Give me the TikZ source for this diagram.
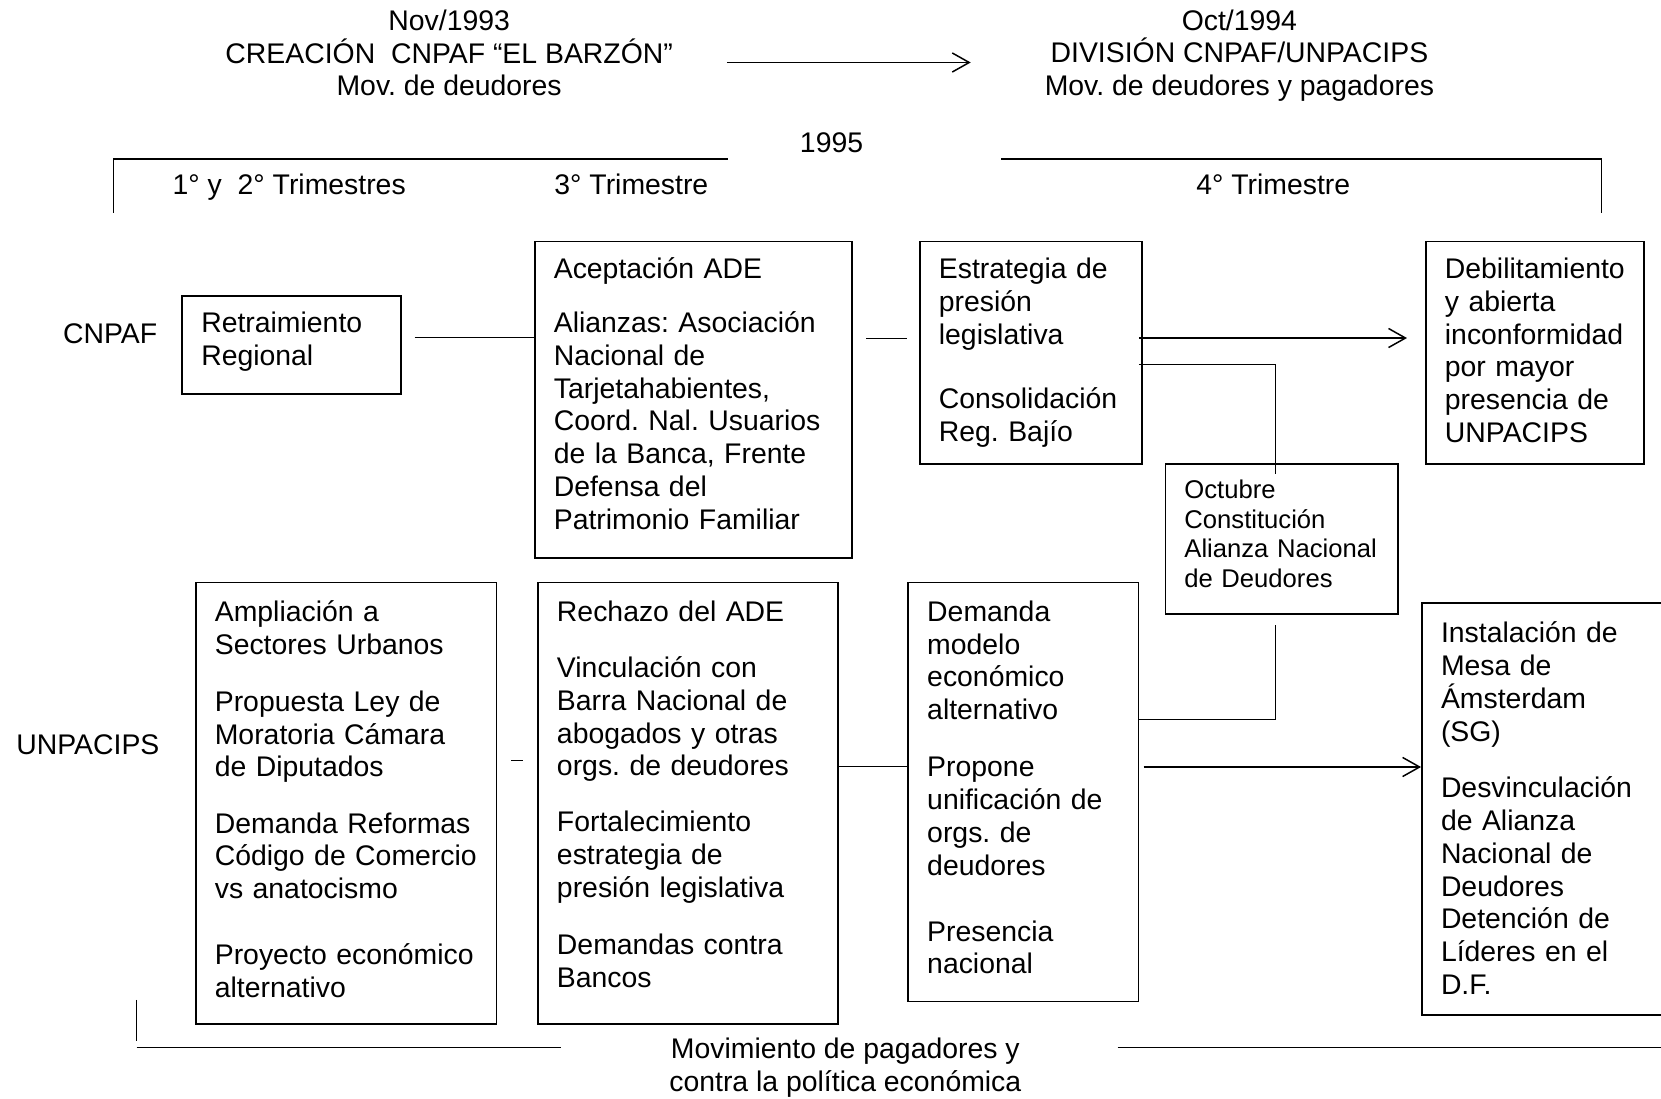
\documentclass[tikz,border=0pt]{standalone}
\usepackage{fontspec}
\setmainfont{Liberation Sans}
\usetikzlibrary{arrows.meta}
\hyphenpenalty=10000
\exhyphenpenalty=10000
\frenchspacing

\begin{document}
\begin{tikzpicture}[x=0.5pt,y=0.5pt,yscale=-1,xscale=1,
  font=\fontsize{13.4}{15.5}\selectfont,
  caja/.style={draw, line width=0.8pt, anchor=north west, align=left, inner xsep=9pt, inner ysep=0pt, text height=17.4pt},
  linea/.style={line width=0.7pt},
  flecha/.style={line width=0.7pt, -{Straight Barb[length=8pt,width=9pt]}},
  texto/.style={align=center, inner sep=0pt}]
\clip (0,0) rectangle (1568,1037);

% Text Node
\node[texto] (crea) at (424,50) {Nov/1993\\CREACIÓN\ \ CNPAF “EL BARZÓN”\\Mov. de deudores};
% Text Node
\node[texto] (divi) at (1170,52.5) {Oct/1994\\DIVISIÓN CNPAF/UNPACIPS\\Mov. de deudores y pagadores};
% Text Node
\node[texto] (anio) at (785,135) {1995};
% Text Node
\node[texto] (tri12) at (273,177) {1° y\ \ 2° Trimestres};
% Text Node
\node[texto] (tri3) at (596,174) {3° Trimestre};
% Text Node
\node[texto] (tri4) at (1202,174) {4° Trimestre};
% Text Node
\node[texto] (cnpaf) at (104,315) {CNPAF};
% Text Node
\node[texto] (unpacips) at (83,703) {UNPACIPS};
% Text Node
\node[texto] (mov) at (798,1008) {Movimiento de pagadores y\\contra la política económica};

%Shape: Rectangle
\node[caja, text width=85.25pt, text depth=28.85pt] (ret) at (171.2,278.5) {Retraimiento\\Regional};
%Shape: Rectangle
\node[caja, text width=131.6pt, text depth=131.95pt] (ace) at (504,227.2) {Aceptación ADE\\[10pt]Alianzas: Asociación\\Nacional de\\Tarjetahabientes,\\Coord. Nal. Usuarios\\de la Banca, Frente\\Defensa del\\Patrimonio Familiar};
%Shape: Rectangle
\node[caja, text width=87pt, text depth=87.7pt] (est) at (867.5,227.2) {Estrategia de\\presión\\legislativa\\[15pt]Consolidación\\Reg. Bajío};
%Shape: Rectangle
\node[caja, text width=85.05pt, text depth=87.7pt] (deb) at (1345.2,227.2) {Debilitamiento\\y abierta\\inconformidad\\por mayor\\presencia de\\UNPACIPS};
%Shape: Rectangle
\node[caja, font=\fontsize{12.1}{13.9}\selectfont, text width=91.85pt, text height=16.35pt, text depth=54.35pt] (octu) at (1099.3,437.4) {Octubre\\Constitución\\Alianza Nacional\\de Deudores};
%Shape: Rectangle
\node[caja, text width=124pt, text height=18.3pt, text depth=190.2pt] (amp) at (184,549) {Ampliación a\\Sectores Urbanos\\[11.5pt]Propuesta Ley de\\Moratoria Cámara\\de Diputados\\[11pt]Demanda Reformas\\Código de Comercio\\vs anatocismo\\[15.5pt]Proyecto económico\\alternativo};
%Shape: Rectangle
\node[caja, text width=123.75pt, text height=18.3pt, text depth=190.2pt] (rec) at (507,549) {Rechazo del ADE\\[11pt]Vinculación con\\Barra Nacional de\\abogados y otras\\orgs. de deudores\\[11pt]Fortalecimiento\\estrategia de\\presión legislativa\\[11.5pt]Demandas contra\\Bancos};
%Shape: Rectangle
\node[caja, text width=90.75pt, text height=18.3pt, text depth=179.45pt] (dem) at (856.5,549) {Demanda\\modelo\\económico\\alternativo\\[11.5pt]Propone\\unificación de\\orgs. de\\deudores\\[15.5pt]Presencia\\nacional};
%Shape: Rectangle
\node[caja, text width=111.25pt, text height=18.8pt, text depth=175.7pt] (ins) at (1341.5,568.5) {Instalación de\\Mesa de\\Ámsterdam\\(SG)\\[11pt]Desvinculación\\de Alianza\\Nacional de\\Deudores\\Detención de\\Líderes en el\\D.F.};


%Straight Lines
\draw[flecha, shorten <=25.25pt, shorten >=34.75pt] ([shift={(0,9)}]crea.east) coordinate (q0) -- (q0 -| divi.west);

%Straight Lines
\draw[linea] (107,201) |- (687,150);
\draw[linea] (945,150) -| (1512,201);

%Straight Lines
\draw[linea] ([shift={(12,-7)}]ret.east) coordinate (q1) -- (q1 -| ace.west);

%Straight Lines
\draw[linea, shorten >=5.5pt] ([shift={(13,-58)}]ace.east) coordinate (q2) -- (q2 -| est.west);

%Straight Lines
\draw[flecha, shorten >=8.5pt] ([shift={(-4,-14)}]est.east) coordinate (q3) -- (q3 -| deb.west);

%Straight Lines
\draw[linea] ([shift={(-4,11)}]est.east) -| ([shift={(-6,10)}]octu.north);

%Straight Lines
\draw[linea] ([shift={(-6,10)}]octu.south) |- ([shift={(0,-68.5)}]dem.east);

%Straight Lines
\draw[linea, shorten >=6.5pt] ([shift={(13,-40.5)}]amp.east) coordinate (q4) -- (q4 -| rec.west);

%Straight Lines
\draw[linea] ([shift={(0,-34.5)}]rec.east) coordinate (q5) -- (q5 -| dem.west);

%Straight Lines
\draw[flecha] ([shift={(4,-23.5)}]dem.east) coordinate (q6) -- (q6 -| ins.west);

%Straight Lines
\draw[linea] (129,944) -- (129,983);
\draw[linea] (129,989) -- (530,989);
\draw[linea] (1055,989) -- (1600,989);

\end{tikzpicture}
\end{document}
